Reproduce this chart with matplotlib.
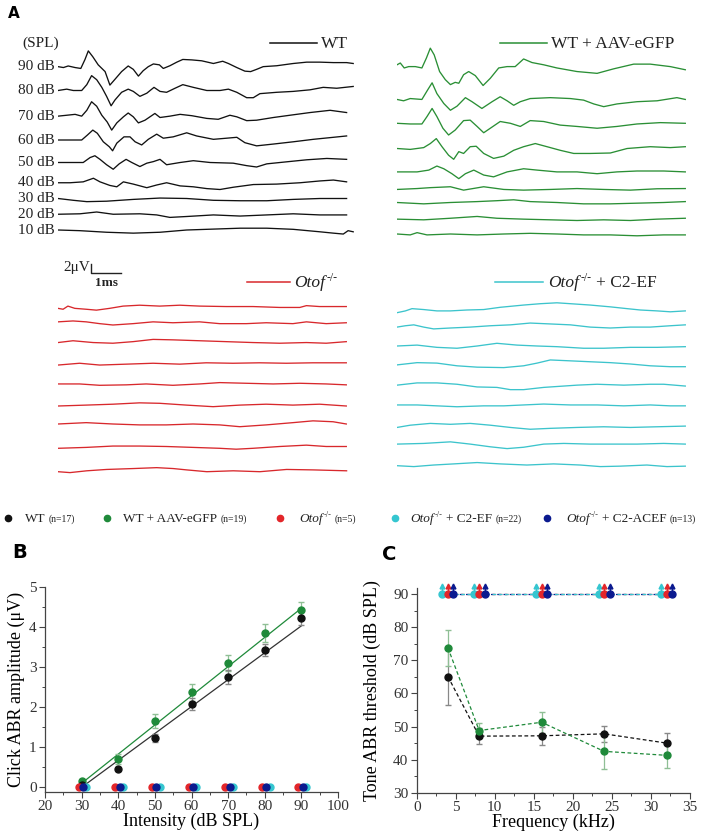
import numpy as np
import matplotlib.pyplot as plt

plt.rcParams['font.family'] = ['Liberation Serif', 'DejaVu Serif']

W, H = 702, 833

# ---- panel A: ABR traces, (time in ms, amplitude in uV), one list per level ----
levels = ["90 dB", "80 dB", "70 dB", "60 dB", "50 dB", "40 dB", "30 dB", "20 dB", "10 dB"]

wt_traces = [
    [(0, 0), (.18, -.2), (.34, .15), (.57, -.2), (.76, -.4), (.9, 1.6), (1.01, 3.5), (1.16, 2.2), (1.34, .4),
     (1.57, -1.1), (1.73, -4.1), (1.9, -2.8), (2.12, -1.1), (2.34, .15), (2.51, -.6), (2.68, -2.1), (2.84, -.9),
     (3.01, 0), (3.18, .6), (3.38, .4), (3.51, -.4), (3.73, .2), (3.96, 1.0), (4.16, 1.6), (4.46, 1.5),
     (4.79, 1.3), (5.18, .7), (5.49, 1.2), (5.68, .7), (5.96, -.2), (6.23, -1.0), (6.42, -1.1), (6.62, -.6),
     (6.84, 0), (7.29, .2), (7.84, .7), (8.29, 1.0), (8.73, 1.0), (9.18, .9), (9.62, .9), (9.84, .7)],
    [(0, 0), (.29, .3), (.51, 0), (.79, 0), (.96, 1.3), (1.12, 3.3), (1.29, 2.4), (1.46, .7), (1.62, -1.3),
     (1.77, -3.4), (1.9, -2.1), (2.12, -.4), (2.34, .3), (2.51, -.2), (2.73, -1.3), (2.96, -.6), (3.2, .7),
     (3.4, -.2), (3.62, -.4), (3.9, .5), (4.16, 1.3), (4.51, .7), (4.96, 0), (5.4, 0), (5.68, .3), (5.96, -.4),
     (6.29, -1.6), (6.51, -1.6), (6.73, -.7), (7.29, -.4), (7.84, -.2), (8.4, .15), (8.84, .7), (9.29, .5),
     (9.84, .9)],
    [(0, 0), (.29, .2), (.57, .4), (.79, 0), (.96, 1.3), (1.12, 3.2), (1.29, 2.2), (1.46, .2), (1.64, -1.3),
     (1.79, -3.1), (1.96, -1.5), (2.18, -.15), (2.34, .7), (2.51, -.15), (2.68, -1.5), (2.9, -.9), (3.23, .6),
     (3.4, -.3), (3.73, 0), (4.07, .4), (4.46, .1), (4.96, -.5), (5.34, -.7), (5.73, .2), (5.96, -.15),
     (6.29, -1.0), (6.62, -.9), (7.18, -.3), (7.73, .2), (8.4, .8), (9.07, 1.3), (9.62, .8)],
    [(0, 0), (.4, 0), (.79, 0), (.98, 1.1), (1.16, 2.2), (1.31, 1.5), (1.51, -.4), (1.71, -1.5), (1.82, -2.4),
     (1.96, -.7), (2.2, .7), (2.4, .7), (2.57, -.4), (2.79, -1.1), (3.01, .15), (3.29, 1.3), (3.51, .4),
     (3.84, .7), (4.29, 1.6), (4.62, .9), (5.18, .15), (5.62, .4), (5.96, .6), (6.23, -.6), (6.62, -1.3),
     (7.18, -.9), (7.84, -.4), (8.51, .15), (9.18, .6), (9.62, .9)],
    [(0, 0), (.51, 0), (.84, 0), (1.07, 1.1), (1.23, 1.5), (1.4, .7), (1.62, -.5), (1.84, -1.5), (2.04, -.3),
     (2.27, .7), (2.46, 0), (2.73, -.9), (2.96, -.15), (3.18, .2), (3.4, .7), (3.62, -.5), (4.07, 0), (4.51, .4),
     (5.07, 0), (5.84, -.15), (6.29, -.7), (6.62, -1.0), (6.96, -.3), (7.62, .15), (8.29, .6), (8.96, .9),
     (9.62, .7)],
    [(0, 0), (.4, 0), (.84, .2), (1.18, 1.0), (1.4, .2), (1.73, -.6), (1.96, -.9), (2.18, .2), (2.51, -.3),
     (2.96, -1.1), (3.29, -.5), (3.62, 0), (4.07, -.7), (4.51, -.9), (4.96, -1.3), (5.4, -1.5), (5.84, -1.0),
     (6.51, -.4), (7.29, -.3), (8.07, 0), (8.73, .4), (9.18, .6), (9.62, .2)],
    [(0, 0), (.51, -.4), (.96, -.7), (1.62, -.6), (2.51, -.2), (3.4, .1), (4.29, 0), (5.18, -.4), (6.07, -.5),
     (6.96, -.5), (7.84, -.2), (8.73, 0), (9.62, 0)],
    [(0, 0), (.73, .1), (1.29, .5), (1.84, 0), (2.73, .1), (3.29, -.15), (3.73, -.7), (4.29, -.5), (5.18, -.15),
     (6.07, -.4), (6.96, -.15), (7.84, .1), (8.73, -.15), (9.62, -.15)],
    [(0, 0), (.73, -.15), (1.62, -.5), (2.51, -.7), (3.4, -.5), (4.29, 0), (5.18, .2), (6.07, .4), (6.96, .4),
     (7.84, .15), (8.73, -.4), (9.18, -.7), (9.51, -.9), (9.67, -.15), (9.84, -.4)],
]

gfp_traces = [
    [(0, 0), (.11, .4), (.24, -.7), (.39, -.4), (.61, -.4), (.83, -.7), (.98, 1.5), (1.11, 3.7), (1.24, 2.2),
     (1.42, -1.5), (1.61, -3.3), (1.78, -4.4), (1.94, -3.9), (2.06, -4.1), (2.22, -2.2), (2.39, -1.5),
     (2.61, -2.4), (2.87, -4.6), (3.11, -3.0), (3.39, -.7), (3.67, -.4), (3.94, -.4), (4.22, 1.3), (4.5, .5),
     (4.89, 0), (5.33, -.7), (6, -1.5), (6.67, -1.9), (7.22, -.9), (7.89, .15), (8.44, .15), (9.11, -.4),
     (9.61, -1.1)],
    [(0, 0), (.22, -.3), (.44, .2), (.83, 0), (1.02, 2.1), (1.17, 3.7), (1.33, 1.3), (1.56, -.9), (1.78, -2.4),
     (2, -1.5), (2.28, .4), (2.5, -.5), (2.83, -2.0), (3.17, -.5), (3.44, .6), (3.67, -.3), (3.89, -1.3),
     (4.11, -.5), (4.44, .2), (5.11, .4), (5.78, .2), (6.22, -.15), (6.56, -1.0), (6.89, -1.6), (7.33, -1.0),
     (8, -.5), (8.67, -.3), (9.33, .4), (9.61, 0)],
    [(0, 0), (.44, -.15), (.83, -.15), (1, 1.5), (1.17, 3.3), (1.33, 1.5), (1.53, -1.1), (1.72, -2.6),
     (1.94, -1.5), (2.22, .6), (2.44, .7), (2.67, -.7), (2.89, -2.1), (3.11, -1.1), (3.44, .4), (3.78, 0),
     (4.11, -.7), (4.44, .6), (4.89, .4), (5.44, -.4), (6, -.7), (6.67, -1.1), (7.33, -.7), (8, -.15),
     (8.78, .15), (9.61, 0)],
    [(0, 0), (.44, -.2), (.89, .2), (1.11, 1.1), (1.31, 2.2), (1.5, .4), (1.72, -1.5), (1.89, -2.4), (2.06, -.7),
     (2.22, -1.1), (2.44, .4), (2.64, .5), (2.89, -1.1), (3.22, -2.2), (3.56, -1.7), (3.89, -.4), (4.22, .4),
     (4.61, 1.1), (5, .4), (5.44, -.4), (5.89, -1.1), (6.44, -1.1), (7.11, -1.0), (7.67, 0), (8.44, .4),
     (9.11, .2), (9.61, .4)],
    [(0, 0), (.67, 0), (1.06, .4), (1.33, 1.3), (1.56, .7), (1.83, -.4), (2.06, -1.5), (2.28, -.4), (2.56, .4),
     (2.89, -.7), (3.22, -1.1), (3.67, 0), (4.22, .7), (4.67, .4), (5.33, 0), (6, 0), (6.67, -.4), (7.33, 0),
     (8, .2), (8.89, .2), (9.61, 0)],
    [(0, 0), (.67, .2), (1.11, .4), (1.78, .6), (2.22, -.15), (2.89, .6), (3.56, 0), (4.22, -.15), (5.11, 0),
     (6, .2), (6.89, 0), (7.78, -.15), (8.67, .15), (9.61, .2)],
    [(0, 0), (.89, -.3), (1.78, 0), (2.67, .2), (3.33, .4), (3.89, .6), (4.44, .2), (5.33, 0), (6.22, -.3),
     (7.11, -.3), (8, -.15), (8.89, 0), (9.61, .2)],
    [(0, 0), (.89, -.15), (1.78, .2), (2.67, .6), (3.33, .2), (4.22, 0), (5.11, -.15), (6, -.3), (6.89, -.15),
     (7.78, -.3), (8.67, 0), (9.61, .2)],
    [(0, 0), (.44, -.2), (.67, .3), (1, -.2), (1.78, 0), (2.67, -.2), (3.56, 0), (4.44, .15), (5.33, 0),
     (6.22, -.2), (7.11, -.2), (8, -.4), (8.89, -.2), (9.61, -.2)],
]

ko_traces = [
    [(0, 0), (.17, -.2), (.33, .5), (.56, 0), (.94, -.2), (1.28, -.4), (1.72, 0), (2.17, .5), (2.72, .7),
     (3.39, .5), (4.06, .7), (4.72, .5), (5.61, .4), (6.5, .4), (7.39, .2), (8.06, .2), (8.28, .6), (8.72, .4),
     (9.61, .4)],
    [(0, 0), (.5, .2), (.94, 0), (1.39, -.4), (1.83, -.7), (2.5, -.4), (3.17, 0), (3.83, -.2), (4.72, 0),
     (5.39, -.4), (6.28, -.4), (6.94, -.2), (7.83, -.4), (8.28, 0), (8.94, -.4), (9.61, -.2)],
    [(0, 0), (.5, .4), (1.17, 0), (1.83, -.15), (2.5, .2), (3.17, .7), (3.83, .6), (4.72, .4), (5.61, .2),
     (6.5, 0), (7.39, -.15), (8.28, 0), (8.94, -.15), (9.61, .2)],
    [(0, 0), (.72, .4), (1.39, 0), (2.28, .2), (3.17, .4), (4.06, .2), (4.94, .5), (5.83, .4), (6.72, .5),
     (7.61, .4), (8.5, .5), (9.61, .5)],
    [(0, 0), (.72, 0), (1.39, -.3), (2.28, -.2), (2.94, 0), (3.83, -.3), (4.72, 0), (5.39, .3), (6.28, .15),
     (7.17, 0), (8.06, .15), (8.94, 0), (9.61, -.2)],
    [(0, 0), (.94, .2), (1.83, .4), (2.72, .7), (3.39, .6), (4.28, .2), (5.17, -.15), (6.06, .2), (6.94, .4),
     (7.83, .2), (8.72, .4), (9.61, 0)],
    [(0, 0), (.94, .3), (1.83, 0), (2.72, -.2), (3.61, -.2), (4.5, 0), (5.39, -.2), (6.06, -.6), (6.94, -.2),
     (7.83, .3), (8.5, .7), (9.17, .5), (9.61, 0)],
    [(0, 0), (.94, .2), (1.83, .5), (2.72, .5), (3.61, .4), (4.5, .2), (5.39, 0), (5.94, -.2), (6.5, 0),
     (7.39, .4), (8.28, .7), (8.94, .4), (9.61, .4)],
    [(0, 0), (.4, -.2), (.96, .2), (1.62, .5), (2.51, .7), (3.29, .9), (3.84, .7), (4.29, .4), (4.96, 0),
     (5.84, .2), (6.73, 0), (7.62, .5), (8.51, .4), (9.62, .2)],
]

ef_traces = [
    [(0, 0), (.28, .4), (.5, .9), (.89, .7), (1.33, .4), (1.78, .4), (2.33, .6), (2.89, .7), (3.44, 1.2),
     (4.22, 1.7), (4.78, 2.0), (5.33, 2.2), (6, 1.9), (6.44, 1.7), (7.11, 1.3), (7.67, .9), (8.11, .6),
     (8.67, .4), (9.11, .2), (9.61, .4)],
    [(0, 0), (.28, .3), (.56, .5), (.89, 0), (1.22, -.4), (1.78, -.2), (2.44, 0), (3.11, .3), (3.78, .5),
     (4.44, .9), (5.11, .7), (5.78, .5), (6.44, 0), (7.11, -.2), (7.78, 0), (8.44, 0), (9.11, .3), (9.61, .5)],
    [(0, 0), (.67, .2), (1.33, -.3), (2, -.5), (2.67, 0), (3.33, .6), (4, .2), (4.67, 0), (5.33, -.15),
     (6.22, -.5), (6.89, -.5), (7.78, -.3), (8.67, -.3), (9.61, -.15)],
    [(0, 0), (.67, .5), (1.33, .4), (2, -.2), (2.67, -.5), (3.56, -.6), (4.22, -.2), (4.67, .4), (5.11, 1.1),
     (5.78, .9), (6.44, .7), (7.11, .5), (7.78, .2), (8.44, -.2), (9.11, -.4), (9.61, -.4)],
    [(0, 0), (.67, .5), (1.33, .5), (2, .2), (2.67, -.4), (3.33, -.5), (3.78, -1.0), (4.22, -1.0), (4.89, -.5),
     (5.56, -.2), (6, 0), (6.67, .2), (7.56, 0), (8.44, .2), (8.89, .2), (9.61, -.2)],
    [(0, 0), (.67, 0), (1.33, -.2), (2, -.4), (2.89, -.2), (3.56, -.2), (4.22, 0), (4.89, .2), (5.78, 0),
     (6.67, 0), (7.56, -.2), (8.44, 0), (9.11, -.2), (9.61, -.2)],
    [(0, 0), (.44, .5), (1.11, .9), (1.78, .7), (2.44, .9), (3.11, .5), (3.78, 0), (4.44, -.4), (5.11, -.2),
     (6, 0), (6.89, .15), (7.78, 0), (8.67, .15), (9.61, .3)],
    [(0, 0), (.89, .15), (1.78, .5), (2.44, 0), (3.11, -.6), (3.67, -1.0), (4.22, -.7), (4.89, 0), (5.56, .15),
     (6.44, 0), (7.11, 0), (8, 0), (8.89, .15), (9.61, 0)],
    [(0, 0), (.56, -.2), (1.22, .15), (1.89, .4), (2.67, .7), (3.44, .4), (4.33, .15), (5.22, .4), (6.11, .15),
     (6.78, -.2), (7.44, -.1), (8.33, .15), (9, -.2), (9.61, -.1)],
]

# vertical stacking of the traces (uV above the lowest trace)
wt_offsets = [36.3, 31.0, 25.3, 20.0, 15.0, 10.5, 7.0, 3.5, 0]
gfp_offsets = [37.6, 29.9, 24.6, 19.0, 13.8, 9.9, 7.0, 3.3, 0]
ko_offsets = [36.3, 33.3, 28.7, 23.7, 19.5, 14.6, 10.6, 5.2, 0]
ef_offsets = [34.0, 30.8, 26.6, 22.4, 17.9, 13.5, 8.5, 4.8, 0]

# ---- panel B: click ABR amplitude ----
intensity = [30, 40, 50, 60, 70, 80, 90]
wt_amp = [0.06, 0.45, 1.24, 2.08, 2.75, 3.43, 4.22]
wt_amp_err = [0.03, 0.05, 0.10, 0.14, 0.17, 0.14, 0.17]
gfp_amp = [0.15, 0.71, 1.66, 2.37, 3.10, 3.85, 4.42]
gfp_amp_err = [0.05, 0.12, 0.18, 0.22, 0.20, 0.22, 0.20]
fit_x = [30, 90]
wt_fit = [0.0, 4.03]
gfp_fit = [0.1, 4.47]
ko_amp = [0, 0, 0, 0, 0, 0, 0]

# ---- panel C: tone ABR threshold ----
freqs = [4, 8, 16, 24, 32]
wt_thr = [65.1, 47.1, 47.2, 47.8, 45.0]
wt_thr_err = [8.6, 2.5, 2.8, 2.5, 2.9]
gfp_thr = [73.8, 48.8, 51.3, 42.5, 41.3]
gfp_thr_err = [5.5, 2.4, 3.1, 5.2, 3.7]
ko_thr = [90, 90, 90, 90, 90]

BLACK = '#111111'
GREEN = '#1f8a3a'
RED = '#e3262a'
CYAN = '#35c6d0'
NAVY = '#0b1a8f'
TR_GREEN = '#2a8f35'
TR_RED = '#d8282c'
TR_CYAN = '#3cc4cc'
TXT = '#222222'

fig = plt.figure(figsize=(W / 100, H / 100), dpi=100)


def px_axes(left, top, width, height):
    return fig.add_axes([left / W, 1 - (top + height) / H, width / W, height / H])


ov = px_axes(0, 0, W, H)
ov.set_xlim(0, W)
ov.set_ylim(H, 0)
ov.axis('off')


def rich(x, y, parts, color=TXT):
    # parts: (text, fontsize, italic, rise in points, gap in points before it)
    prev = None
    for txt, fs, it, rise, gap in parts:
        kw = dict(fontsize=fs, style='italic' if it else 'normal', color=color,
                  va='baseline', ha='left', textcoords='offset points')
        if prev is None:
            prev = ov.annotate(txt, xy=(x, y), xycoords='data', xytext=(gap, rise), **kw)
        else:
            prev = ov.annotate(txt, xy=(1, y), xycoords=(prev, 'data'), xytext=(gap, rise), **kw)
    return prev


UV_PX = 4.5   # pixels per uV
MS_PX = 30.0  # pixels per ms


def trace_axes(left, top, width, height, base):
    ax = px_axes(left, top, width, height)
    ax.set_xlim(0, width / MS_PX)
    ax.set_ylim(-(top + height - base) / UV_PX, (base - top) / UV_PX)
    ax.axis('off')
    return ax


def draw_traces(ax, traces, offsets, color):
    for tr, off in zip(traces, offsets):
        t = [p[0] for p in tr]
        v = np.array([p[1] for p in tr]) + off
        ax.plot(t, v, color=color, lw=0.95, solid_joinstyle='round')


ax_wt = trace_axes(58, 25, 300, 225, 230)
ax_gfp = trace_axes(397, 25, 300, 225, 234)
ax_ko = trace_axes(58, 250, 300, 240, 471.7)
ax_ef = trace_axes(397, 250, 300, 240, 465.7)
draw_traces(ax_wt, wt_traces, wt_offsets, BLACK)
draw_traces(ax_gfp, gfp_traces, gfp_offsets, TR_GREEN)
draw_traces(ax_ko, ko_traces, ko_offsets, TR_RED)
draw_traces(ax_ef, ef_traces, ef_offsets, TR_CYAN)

for lab, off in zip(levels, wt_offsets):
    ax_wt.text(-0.1, off, lab, ha='right', va='center', fontsize=11, color=TXT)

# scale bar (2 uV, 1 ms)
sb_x, sb_y = 1.1, 44.2
ax_ko.plot([sb_x, sb_x, sb_x + 1], [sb_y + 2, sb_y, sb_y], color=TXT, lw=1.0, clip_on=False)
ax_ko.text(sb_x - 0.02, sb_y + 1.1, "2\u03bcV", ha='right', va='center', fontsize=11, color=TXT)
ax_ko.text(sb_x + 0.5, sb_y - 0.9, "1ms", ha='center', va='top', fontsize=9.5, fontweight='bold', color=TXT)

ov.text(8, 13, "A", fontsize=11, fontweight='bold', family='DejaVu Sans', va='center')
ov.text(22, 43, "(SPL)", fontsize=11, va='center', color=TXT)

# panel A keys
ov.plot([270, 317], [43, 43], color=BLACK, lw=1.1)
rich(317, 48, [("WT", 12.5, False, 0, 3)])
ov.plot([500, 547], [43, 43], color=TR_GREEN, lw=1.1)
rich(547, 48, [("WT + AAV-eGFP", 12.5, False, 0, 3)])
ov.plot([247, 290], [282, 282], color=TR_RED, lw=1.1)
rich(290, 287, [("Otof", 12.5, True, 0, 3), ("-/-", 8.5, False, 4.5, 1)])
ov.plot([495, 543], [282, 282], color=TR_CYAN, lw=1.1)
rich(543, 287, [("Otof", 12.5, True, 0, 4), ("-/-", 8.5, False, 4.5, 1), ("+ C2-EF", 12.5, False, 0, 3)])

# ---- legend row ----
MAIN, SMALL = 9.5, 7
leg_items = [(8, 25, BLACK, [("WT", MAIN, False, 0, 0)], "(n=17)"),
             (107, 123, GREEN, [("WT + AAV-eGFP", MAIN, False, 0, 0)], "(n=19)"),
             (280, 299, RED, [("Otof", MAIN, True, 0, 0), ("-/-", 6, False, 3.5, 0.5)], "(n=5)"),
             (395, 410, CYAN, [("Otof", MAIN, True, 0, 0), ("-/-", 6, False, 3.5, 0.5),
                               ("+ C2-EF", MAIN, False, 0, 2.5)], "(n=22)"),
             (547, 566, NAVY, [("Otof", MAIN, True, 0, 0), ("-/-", 6, False, 3.5, 0.5),
                               ("+ C2-ACEF", MAIN, False, 0, 2.5)], "(n=13)")]
for mx, tx, col, parts, small in leg_items:
    ov.plot(mx, 518, 'o', color=col, ms=4.5)
    rich(tx, 522, parts + [(small, SMALL, False, 0, 2.5)])


def style_axes(ax):
    for s in ['top', 'right']:
        ax.spines[s].set_visible(False)
    for s in ['left', 'bottom']:
        ax.spines[s].set_color('#444')
        ax.spines[s].set_linewidth(0.9)
    ax.tick_params(direction='out', length=4, width=0.8, color='#444', labelsize=11,
                   labelcolor='#333', pad=2)
    ax.tick_params(which='minor', direction='out', length=2, width=0.7, color='#444')


# ---- panel B ----
axb = px_axes(45, 587, 293, 204.7)
style_axes(axb)
axb.set_xlim(20, 100)
axb.set_ylim(-0.11, 5)
axb.set_xticks(range(20, 101, 10))
axb.set_yticks(range(0, 6))
axb.set_xticks(range(25, 100, 10), minor=True)
axb.set_yticks(np.arange(0.5, 5, 1.0), minor=True)
axb.plot(fit_x, wt_fit, color='#333', lw=0.9)
axb.plot(fit_x, gfp_fit, color=GREEN, lw=0.9)
axb.errorbar(intensity, gfp_amp, yerr=gfp_amp_err, fmt='o', color=GREEN, ms=5, ecolor='#8fbf95',
             elinewidth=0.9, capsize=2, zorder=3)
axb.errorbar(intensity, wt_amp, yerr=wt_amp_err, fmt='o', color=BLACK, ms=5, ecolor='#888',
             elinewidth=0.9, capsize=2, zorder=3)
xi = np.array(intensity)
axb.plot(xi + 1.3, ko_amp, 'o', color=CYAN, ms=5, zorder=4, clip_on=False)
axb.plot(xi - 0.8, ko_amp, 'o', color=RED, ms=5, zorder=4, clip_on=False)
axb.plot(xi + 0.4, ko_amp, 'o', color=NAVY, ms=5, zorder=5, clip_on=False)
axb.set_xlabel("Intensity (dB SPL)", fontsize=13, labelpad=0)
axb.set_ylabel("Click ABR amplitude (\u03bcV)", fontsize=13, labelpad=3)
ov.text(12, 553, "B", fontsize=14, fontweight='bold', family='DejaVu Sans', va='center')

# ---- panel C ----
axc = px_axes(416.7, 588.3, 273.3, 204.4)
style_axes(axc)
axc.set_xlim(0, 35)
axc.set_ylim(30, 91.8)
axc.set_xticks(range(0, 36, 5))
axc.set_yticks(range(30, 91, 10))
axc.set_xticks(np.arange(2.5, 35, 5), minor=True)
axc.set_yticks(range(35, 90, 10), minor=True)
fr = np.array(freqs)
for dx, col in [(0.0, RED), (0.7, NAVY), (-0.7, CYAN)]:
    axc.plot(fr + dx, ko_thr, '--', color=col, lw=0.9, dashes=(3, 2), zorder=2)
for dx, col in [(-0.7, CYAN), (0.0, RED), (0.7, NAVY)]:
    for f, v in zip(fr + dx, ko_thr):
        axc.plot([f, f], [v, v + 2.2], color=col, lw=1.0, clip_on=False, zorder=4)
        axc.plot(f, v + 2.6, '^', color=col, ms=3.5, clip_on=False, zorder=4)
    axc.plot(fr + dx, ko_thr, 'o', color=col, ms=5, clip_on=False, zorder=5)
axc.errorbar(freqs, wt_thr, yerr=wt_thr_err, fmt='o--', color=BLACK, ms=5, lw=0.9, dashes=(3, 2),
             ecolor='#888', elinewidth=0.9, capsize=2, zorder=3)
axc.errorbar(freqs, gfp_thr, yerr=gfp_thr_err, fmt='o--', color=GREEN, ms=5, lw=0.9, dashes=(3, 2),
             ecolor='#8fbf95', elinewidth=0.9, capsize=2, zorder=3)
axc.set_xlabel("Frequency (kHz)", fontsize=13, labelpad=0)
axc.set_ylabel("Tone ABR threshold (dB SPL)", fontsize=13, labelpad=9)
ov.text(382, 555, "C", fontsize=14, fontweight='bold', family='DejaVu Sans', va='center')

fig.savefig("out.png", dpi=100)
